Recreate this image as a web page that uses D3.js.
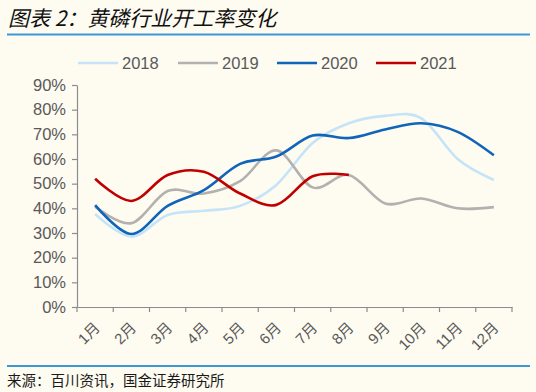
<!DOCTYPE html>
<html><head><meta charset="utf-8">
<script src="https://cdn.jsdelivr.net/npm/d3@7"></script>
<style>
html,body{margin:0;padding:0;background:#FEFBF1;}
svg{display:block;}
</style></head>
<body>
<svg id="c" width="536" height="392"></svg>
<script>
const months = ["1月","2月","3月","4月","5月","6月","7月","8月","9月","10月","11月","12月"];
const yTicks = [0,0.1,0.2,0.3,0.4,0.5,0.6,0.7,0.8,0.9];
const s2018 = [0.377,0.285,0.373,0.39,0.41,0.495,0.665,0.745,0.775,0.765,0.60,0.515];
const s2019 = [0.407,0.34,0.47,0.46,0.51,0.635,0.485,0.535,0.42,0.44,0.40,0.405];
const s2020 = [0.413,0.296,0.41,0.474,0.58,0.61,0.695,0.685,0.72,0.745,0.71,0.615];
const s2021 = [0.52,0.43,0.535,0.548,0.46,0.414,0.53,0.535];
const seriesNames = ["2018","2019","2020","2021"];
const seriesColors = ["#C6E4F7","#B3B1AF","#1065BA","#C00000"];
const seriesData = [s2018,s2019,s2020,s2021];

(function(){
const svg = d3.select("#c");
const bg = "#FEFBF1";
svg.append("rect").attr("width",536).attr("height",392).attr("fill",bg);

// title
svg.append("text").attr("x",8).attr("y",26)
  .attr("font-family","'Noto Sans CJK SC','Noto Sans',sans-serif")
  .attr("font-size",21).attr("font-style","italic").attr("font-weight","normal")
  .attr("fill","#111").text("图表 2：黄磷行业开工率变化");
svg.append("line").attr("x1",7).attr("x2",530).attr("y1",34.5).attr("y2",34.5)
  .attr("stroke","#3B9AD6").attr("stroke-width",2);

// footer
svg.append("line").attr("x1",7).attr("x2",530).attr("y1",366).attr("y2",366)
  .attr("stroke","#3B9AD6").attr("stroke-width",2);
svg.append("text").attr("x",7).attr("y",386)
  .attr("font-family","'Noto Sans CJK SC',sans-serif")
  .attr("font-size",14.5).attr("fill","#1a1a1a").text("来源：百川资讯，国金证券研究所");

const pLeft = 77, pRight = 512, pTop = 85, pBottom = 307;
const x = d3.scaleBand().domain(months).range([pLeft,pRight]);
const y = d3.scaleLinear().domain([0,0.9]).range([pBottom,pTop]);

const axisColor = "#8C8C8C";
const textColor = "#595959";
const font = "'Liberation Sans',Arial,'Noto Sans CJK SC',sans-serif";

// y axis
const yAxis = svg.append("g").attr("transform",`translate(${pLeft},0)`)
  .call(d3.axisLeft(y).tickValues(yTicks).tickFormat(d3.format(".0%")).tickSize(5).tickSizeOuter(0).tickPadding(6));
yAxis.select(".domain").attr("stroke",axisColor).attr("stroke-width",1.2);
yAxis.selectAll(".tick line").attr("stroke",axisColor).attr("stroke-width",1.2);
yAxis.selectAll(".tick text").attr("fill",textColor).attr("font-family",font).attr("font-size",16.5);

// x axis
const xAxis = svg.append("g").attr("transform",`translate(0,${pBottom})`)
  .call(d3.axisBottom(x).tickSize(0).tickSizeOuter(0));
xAxis.select(".domain").attr("stroke",axisColor).attr("stroke-width",1.2);
xAxis.selectAll(".tick text").remove();
xAxis.selectAll(".tick line").remove();
const bounds = months.map(m => x(m)).concat([pRight]);
xAxis.selectAll("line.b").data(bounds).enter().append("line").attr("class","b")
  .attr("x1",d=>d).attr("x2",d=>d).attr("y1",0).attr("y2",5)
  .attr("stroke",axisColor).attr("stroke-width",1.2);
xAxis.selectAll("text.lbl").data(months).enter().append("text").attr("class","lbl")
  .attr("transform",d=>`translate(${x(d)+x.bandwidth()/2+2},${18}) rotate(-45)`)
  .attr("text-anchor","end").attr("dy","0.35em")
  .attr("fill",textColor).attr("font-family",font).attr("font-size",15).text(d=>d);

// lines
const line = d3.line()
  .x((d,i)=>x(months[i])+x.bandwidth()/2)
  .y(d=>y(d))
  .curve(d3.curveCardinal.tension(0));
seriesData.forEach((s,k)=>{
  svg.append("path").datum(s).attr("d",line).attr("fill","none")
    .attr("stroke",seriesColors[k]).attr("stroke-width",2.6).attr("stroke-linecap","butt");
});

// legend
const legX = [78,178,277,376];
seriesNames.forEach((n,k)=>{
  const g = svg.append("g").attr("transform",`translate(${legX[k]},63)`);
  g.append("line").attr("x1",0).attr("x2",40).attr("y1",0).attr("y2",0)
    .attr("stroke",seriesColors[k]).attr("stroke-width",2.6);
  g.append("text").attr("x",44).attr("y",0).attr("dy","0.36em")
    .attr("fill",textColor).attr("font-family",font).attr("font-size",16.5).text(n);
});
})();
</script>
</body></html>
